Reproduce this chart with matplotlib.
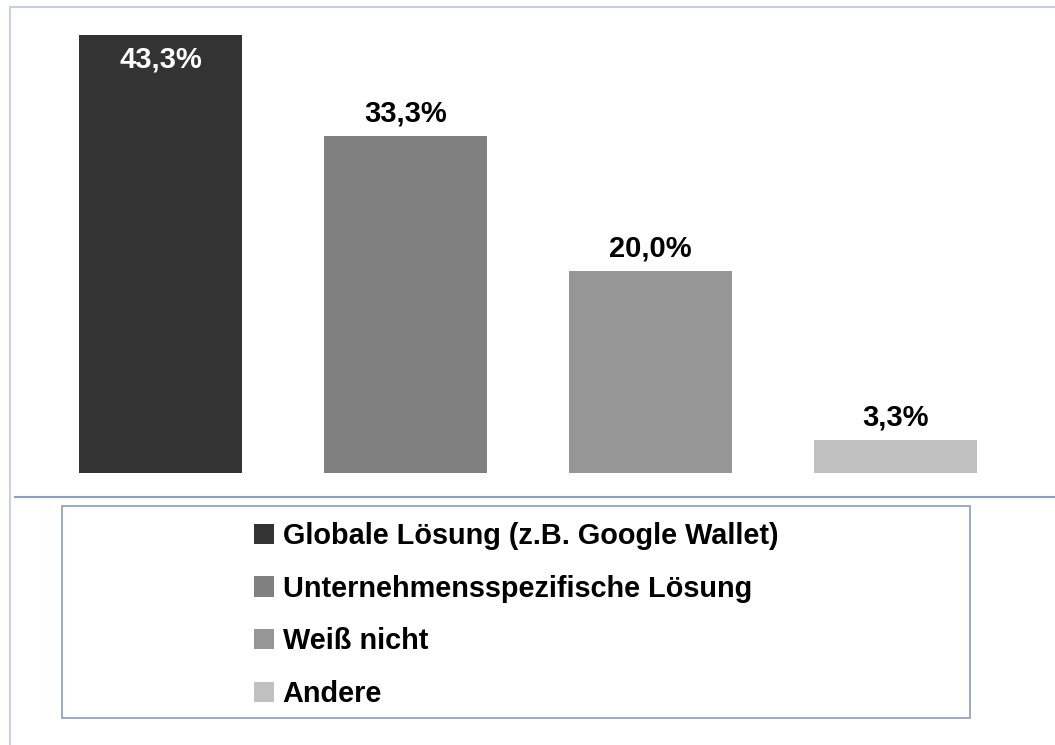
import matplotlib.pyplot as plt
from matplotlib.lines import Line2D
from matplotlib.patches import Rectangle

categories = ["Globale Lösung (z.B. Google Wallet)",
              "Unternehmensspezifische Lösung",
              "Weiß nicht",
              "Andere"]
values = [43.3, 33.3, 20.0, 3.3]
labels = ["43,3%", "33,3%", "20,0%", "3,3%"]
colors = ["#333333", "#808080", "#969696", "#c0c0c0"]

plt.rcParams['font.family'] = ['Liberation Sans', 'DejaVu Sans']

W, H = 1055, 745
fig = plt.figure(figsize=(W / 100, H / 100), dpi=100)


def px(x, y):
    # pixel coords (top-left origin) -> figure fraction
    return x / W, 1 - y / H


ax = fig.add_axes([38 / W, 1 - 473 / H, 980 / W, 438 / H])
bars = ax.bar(range(len(values)), values, width=0.665, color=colors)
ax.set_xlim(-0.5, 3.5)
ax.set_ylim(0, 43.3)
ax.axis('off')

for i, (b, lab) in enumerate(zip(bars, labels)):
    top = b.get_height()
    if i == 0:
        ax.annotate(lab, (b.get_x() + b.get_width() / 2, top), xytext=(0, -18),
                    textcoords='offset points', ha='center', va='center',
                    fontsize=21, fontweight='bold', color='white')
    else:
        ax.annotate(lab, (b.get_x() + b.get_width() / 2, top), xytext=(0, 16),
                    textcoords='offset points', ha='center', va='center',
                    fontsize=21, fontweight='bold', color='black')

# outer frame (left and top) and baseline
x0, y0 = px(10, 7)
x1, y1 = px(W, 7)
fig.add_artist(Line2D([x0, x1], [y0, y1], color='#c8d0dc', lw=1.5))
x2, y2 = px(10, H)
fig.add_artist(Line2D([x0, x2], [y0, y2], color='#c8d0dc', lw=1.5))
bx0, by = px(15, 497)
bx1, _ = px(W, 497)
fig.add_artist(Line2D([bx0, bx1], [by, by], color='#8fa1ba', lw=1.5))

# legend box
lx, ly = px(62, 718)
fig.add_artist(Rectangle((lx, ly), (970 - 62) / W, (718 - 506) / H,
                         transform=fig.transFigure, fill=False,
                         edgecolor='#8c9bb5', lw=1.2))
cx, cy = px(516, 615)
fig.legend(bars, categories, loc='center', bbox_to_anchor=(cx, cy),
           frameon=False, prop={'size': 20.8, 'weight': 'bold'},
           handlelength=0.7, handleheight=0.7, handletextpad=0.3,
           labelspacing=0.86, borderpad=0)

fig.savefig('out.png', dpi=100)
